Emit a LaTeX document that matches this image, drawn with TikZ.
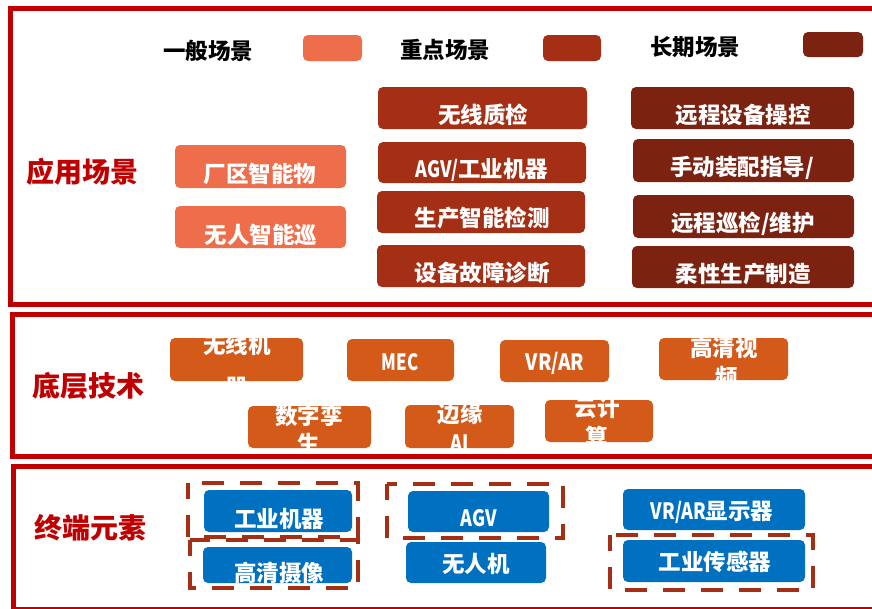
\documentclass[tikz,border=0pt]{standalone}
\usepackage{graphicx}
\usepackage{fontspec}
\setmainfont{Noto Sans CJK SC}
\definecolor{frameRed}{HTML}{C00000}
\definecolor{genC}{HTML}{EE6E4C}
\definecolor{keyC}{HTML}{A52F14}
\definecolor{longC}{HTML}{7B2210}
\definecolor{techC}{HTML}{D45A1A}
\definecolor{blueC}{HTML}{0070C0}
\definecolor{dashC}{HTML}{A52F14}
\newcommand\bt{\fontsize{22.5}{26}\selectfont\bfseries}
\newcommand\sx[1]{\scalebox{0.8}[1]{#1}}
\newcommand\mybox[6]{\node[bx, fill=#6, minimum width={(#4-#2)*1pt}, minimum height={(#5-#3)*1pt}] (#1) at ({(#2+#4)/2},{(#3+#5)/2}) {};}
\tikzset{
  bx/.style={rounded corners=5pt, inner sep=0pt, draw=none},
  txt/.style={inner sep=0pt, text=white, font=\bt},
  legtxt/.style={inner sep=0pt, text=black, font=\bt},
  sec/.style={inner sep=0pt, text=frameRed, font=\fontsize{28}{32}\selectfont\bfseries},
  secframe/.style={draw=frameRed, line width=5pt},
  dframe/.style={draw=dashC, line width=4.5pt, dash pattern=on 22pt off 16pt}
}
\begin{document}
\begin{tikzpicture}[x=1pt,y=-1pt]
\useasboundingbox (0,0) rectangle (872,608);
% section frames
\draw[secframe] (10.5,8.5) rectangle (885,304.5);
\draw[secframe] (12.5,314.5) rectangle (885,456);
\draw[secframe] (13,466.5) rectangle (885,609);
% section labels
\node[sec] (s1) at (82,172) {应用场景};
\node[sec] (s2) at (88,386) {底层技术};
\node[sec] (s3) at (90,528) {终端元素};
% legend
\node[legtxt] (lt1) at (208,51) {一般场景};
\mybox{l1}{303}{35}{362}{61}{genC}
\node[legtxt] (lt2) at (445,50) {重点场景};
\mybox{l2}{543}{35}{601}{61}{keyC}
\node[legtxt] (lt3) at (695,47) {长期场景};
\mybox{l3}{803}{32}{863}{57}{longC}
% general scenarios
\mybox{g1}{175}{145}{346}{188}{genC}
\node[txt] (tg1) at (260,174) {厂区智能物};
\mybox{g2}{175}{206}{346}{248}{genC}
\node[txt] (tg2) at (261,235) {无人智能巡};
% key scenarios
\mybox{k1}{378}{87}{587}{129}{keyC}
\node[txt] (tk1) at (483,115) {无线质检};
\mybox{k2}{378}{142}{586}{183}{keyC}
\node[txt] (tk2) at (482,170) {\sx{AGV/}工业机器};
\mybox{k3}{377}{191}{585}{233}{keyC}
\node[txt] (tk3) at (482,218) {生产智能检测};
\mybox{k4}{377}{245}{585}{287}{keyC}
\node[txt] (tk4) at (482,273) {设备故障诊断};
% long-term scenarios
\mybox{r1}{631}{87}{854}{129}{longC}
\node[txt] (tr1) at (743,115) {远程设备操控};
\mybox{r2}{633}{139}{854}{182}{longC}
\node[txt] (tr2) at (742,168) {手动装配指导/};
\mybox{r3}{633}{195}{854}{238}{longC}
\node[txt] (tr3) at (743,224) {远程巡检/维护};
\mybox{r4}{632}{246}{854}{288}{longC}
\node[txt] (tr4) at (743,274) {柔性生产制造};
% technology boxes
\mybox{t1}{170}{338}{303}{381}{techC}
\begin{scope}
\clip[rounded corners=5pt] (t1.south west) rectangle (t1.north east);
\node[txt] (tt1a) at (237,345) {无线机};
\node[txt] (tt1b) at (237,387) {器};
\end{scope}
\mybox{t2}{347}{339}{454}{381}{techC}
\node[txt] (tt2) at (400,362) {\scalebox{0.75}[1]{MEC}};
\mybox{t3}{500}{340}{609}{382}{techC}
\node[txt] (tt3) at (555,363) {\scalebox{0.85}[1]{VR/AR}};
\mybox{t4}{659}{338}{788}{380}{techC}
\begin{scope}
\clip[rounded corners=5pt] (t4.south west) rectangle (t4.north east);
\node[txt] (tt4a) at (724,348) {高清视};
\node[txt] (tt4b) at (727,377) {频};
\end{scope}
\mybox{t5}{248}{406}{371}{448}{techC}
\begin{scope}
\clip[rounded corners=5pt] (t5.south west) rectangle (t5.north east);
\node[txt] (tt5a) at (309,416) {数字孪};
\node[txt] (tt5b) at (309,444) {生};
\end{scope}
\mybox{t6}{405}{405}{514}{448}{techC}
\begin{scope}
\clip[rounded corners=5pt] (t6.south west) rectangle (t6.north east);
\node[txt] (tt6a) at (460,414) {边缘};
\node[txt] (tt6b) at (460,443) {\sx{AI}};
\end{scope}
\mybox{t7}{545}{400}{653}{442}{techC}
\begin{scope}
\clip[rounded corners=5pt] (t7.south west) rectangle (t7.north east);
\node[txt] (tt7a) at (597,408) {云计};
\node[txt] (tt7b) at (597,437) {算};
\end{scope}
% terminal elements
\mybox{b1}{204}{490}{352}{532}{blueC}
\node[txt] (tb1) at (279,519) {工业机器};
\mybox{b2}{203}{547}{352}{583}{blueC}
\node[txt] (tb2) at (279,573) {高清摄像};
\mybox{b3}{408}{491}{549}{532}{blueC}
\node[txt] (tb3) at (479,518) {\sx{AGV}};
\mybox{b4}{406}{542}{546}{583}{blueC}
\node[txt] (tb4) at (476,564) {无人机};
\mybox{b5}{623}{489}{805}{530}{blueC}
\node[txt] (tb5) at (712,512) {\sx{VR/AR}显示器};
\mybox{b6}{623}{540}{805}{582}{blueC}
\node[txt] (tb6) at (715,562) {工业传感器};
% dashed groupings
\draw[dframe, dash phase=6pt] (188,483) rectangle (358,537);
\draw[dframe, dash phase=6pt] (190,540) rectangle (358,588);
\draw[dframe, dash phase=6pt] (387,484) rectangle (563,538);
\draw[dframe, dash phase=6pt] (610,535) rectangle (813,590);
\end{tikzpicture}
\end{document}
